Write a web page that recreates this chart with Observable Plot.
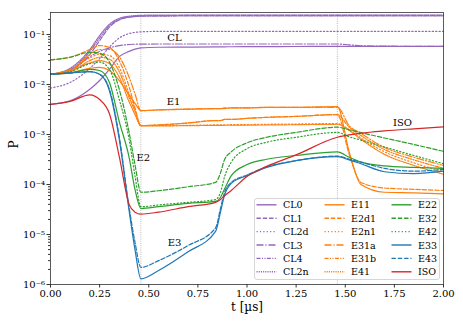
<!DOCTYPE html>
<html><head><meta charset="utf-8">
<script src="https://cdn.jsdelivr.net/npm/d3@7"></script>
<script src="https://cdn.jsdelivr.net/npm/@observablehq/plot@0.6"></script>
<style>
body{margin:0;background:#fff;}
#wrap{position:relative;width:463px;height:324px;font-family:"DejaVu Serif",serif;}
#legend{position:absolute;left:254px;top:198px;}
</style></head><body><div id="wrap"></div>
<script>
// time grid [µs]
const times = [0, 0.1, 0.2, 0.25, 0.3, 0.35, 0.4, 0.43, 0.46, 0.55, 0.7, 0.84, 0.865, 0.885, 0.92, 1.0, 1.1, 1.25, 1.46, 1.52, 1.58, 1.7, 1.85, 2.0];

// CL group
const CL0  = [0.004, 0.0047, 0.008, 0.012, 0.02, 0.036, 0.046, 0.051, 0.054, 0.0555, 0.056, 0.0565, 0.0566, 0.0567, 0.0568, 0.057, 0.0572, 0.0575, 0.058, 0.058, 0.058, 0.058, 0.058, 0.058];
const CL1  = [0.016, 0.019, 0.04, 0.075, 0.14, 0.195, 0.222, 0.23, 0.235, 0.238, 0.24, 0.24, 0.24, 0.24, 0.24, 0.24, 0.24, 0.24, 0.24, 0.24, 0.24, 0.24, 0.24, 0.24];
const CL2d = [0.0085, 0.011, 0.021, 0.033, 0.056, 0.085, 0.104, 0.11, 0.113, 0.115, 0.115, 0.115, 0.115, 0.115, 0.115, 0.115, 0.115, 0.115, 0.115, 0.115, 0.115, 0.115, 0.115, 0.115];
const CL3  = [0.016, 0.019, 0.036, 0.046, 0.054, 0.06, 0.063, 0.0638, 0.064, 0.0645, 0.0645, 0.0645, 0.0645, 0.0645, 0.0645, 0.0645, 0.0645, 0.0645, 0.0645, 0.062, 0.0595, 0.0585, 0.058, 0.058];
const CL4  = [0.016, 0.02, 0.046, 0.085, 0.15, 0.2, 0.223, 0.228, 0.231, 0.233, 0.234, 0.234, 0.234, 0.234, 0.234, 0.234, 0.234, 0.234, 0.234, 0.234, 0.234, 0.234, 0.234, 0.234];
const CL2n = [0.016, 0.021, 0.05, 0.095, 0.16, 0.21, 0.232, 0.238, 0.242, 0.244, 0.245, 0.245, 0.245, 0.245, 0.245, 0.245, 0.245, 0.245, 0.245, 0.245, 0.245, 0.245, 0.245, 0.245];
// E1 group
const E11  = [0.016, 0.017, 0.021, 0.022, 0.019, 0.012, 0.0062, 0.0042, 0.003, 0.0031, 0.0032, 0.0033, 0.0033, 0.0033, 0.0034, 0.0034, 0.0035, 0.0035, 0.0036, 0.00045, 0.0001, 0.00007, 0.000068, 0.000065];
const E2d1 = [0.031, 0.035, 0.05, 0.06, 0.055, 0.03, 0.009, 0.0034, 0.0015, 0.00155, 0.0017, 0.0019, 0.0019, 0.002, 0.002, 0.0021, 0.0022, 0.0023, 0.0025, 0.0004, 0.00011, 0.000085, 0.00008, 0.000076];
const E2n1 = [0.016, 0.02, 0.034, 0.04, 0.038, 0.022, 0.0065, 0.003, 0.0015, 0.0015, 0.00152, 0.00155, 0.00155, 0.00156, 0.00157, 0.00158, 0.0016, 0.00162, 0.00165, 0.00125, 0.00085, 0.00045, 0.00027, 0.00018];
const E31a = [0.016, 0.019, 0.04, 0.05, 0.05, 0.036, 0.014, 0.0065, 0.003, 0.0031, 0.0032, 0.0033, 0.0033, 0.0034, 0.0034, 0.0034, 0.0035, 0.0035, 0.0035, 0.0015, 0.00105, 0.00055, 0.00035, 0.00024];
const E31b = [0.016, 0.018, 0.03, 0.035, 0.032, 0.018, 0.0055, 0.0029, 0.0015, 0.00155, 0.0017, 0.0019, 0.0019, 0.002, 0.002, 0.0021, 0.0022, 0.0023, 0.0025, 0.0014, 0.00095, 0.0005, 0.00031, 0.00021];
const E41  = [0.016, 0.019, 0.027, 0.03, 0.026, 0.014, 0.0045, 0.0025, 0.0015, 0.00149, 0.0015, 0.00152, 0.00152, 0.00153, 0.00153, 0.00154, 0.00155, 0.00157, 0.0016, 0.0012, 0.0008, 0.0004, 0.00024, 0.00016];
// E2 group
const E22  = [0.016, 0.017, 0.02, 0.019, 0.011, 0.0018, 0.00035, 0.00008, 0.000033, 0.000036, 0.000042, 0.000046, 0.000055, 0.00008, 0.00015, 0.00025, 0.00032, 0.00038, 0.00045, 0.00035, 0.00028, 0.000235, 0.00022, 0.00021];
const E32  = [0.031, 0.035, 0.044, 0.042, 0.028, 0.008, 0.0011, 0.00025, 0.00007, 0.000075, 0.00009, 0.00011, 0.00017, 0.00031, 0.00045, 0.00068, 0.00088, 0.0011, 0.0014, 0.00124, 0.00109, 0.00085, 0.00063, 0.00046];
const E42  = [0.016, 0.018, 0.026, 0.028, 0.02, 0.005, 0.0008, 0.00015, 0.000036, 0.000039, 0.000044, 0.00005, 0.00007, 0.00014, 0.00028, 0.00052, 0.0007, 0.00088, 0.0011, 0.0009, 0.00077, 0.00056, 0.00038, 0.00026];
// E3 group
const E33  = [0.016, 0.017, 0.018, 0.016, 0.0075, 0.0008, 0.00003, 0.000005, 0.0000013, 0.0000019, 0.0000045, 0.0000115, 0.000028, 0.00006, 0.000105, 0.00015, 0.00022, 0.0003, 0.00036, 0.00031, 0.00026, 0.00018, 0.000165, 0.000185];
const E43  = [0.016, 0.017, 0.018, 0.016, 0.008, 0.0009, 0.000035, 0.000007, 0.0000022, 0.000003, 0.000006, 0.0000135, 0.000033, 0.000068, 0.00011, 0.000155, 0.000225, 0.0003, 0.00037, 0.00032, 0.00028, 0.00021, 0.000185, 0.0002];
// ISO
const ISO  = [0.004, 0.0046, 0.0062, 0.005, 0.0026, 0.00036, 0.00004, 0.000028, 0.0000255, 0.000028, 0.000036, 0.000044, 0.00005, 0.000059, 0.000076, 0.000145, 0.00023, 0.00039, 0.00088, 0.00098, 0.00106, 0.00118, 0.0013, 0.00142];

const seriesNames = ["CL0","CL1","CL2d","CL3","CL4","CL2n","E11","E2d1","E2n1","E31a","E31b","E41","E22","E32","E42","E33","E43","ISO"];
const seriesValues = [CL0, CL1, CL2d, CL3, CL4, CL2n, E11, E2d1, E2n1, E31a, E31b, E41, E22, E32, E42, E33, E43, ISO];

// dividing instants
const phaseTimes = [0.46, 1.46];

// in-plot group labels
const annoLabels = ["CL", "E1", "E2", "E3", "ISO"];
const annoT = [0.631, 0.626, 0.472, 0.631, 1.791];
const annoP = [0.0843, 0.00443, 0.000342, 0.0000068, 0.00168];

const xTicks = [0, 0.25, 0.5, 0.75, 1.0, 1.25, 1.5, 1.75, 2.0];
const yTicks = [1e-6, 1e-5, 1e-4, 1e-3, 1e-2, 1e-1];

// styles (separate from data)
const C = {purple:"#9467bd", orange:"#ff7f0e", green:"#2ca02c", blue:"#1f77b4", red:"#d62728"};
const D = {solid:null, dashed:"4.4,1.9", dotted:"1.2,2.2", dashdot:"7,1.9,1.2,1.9", dashdotdot:"4,1.4,1.1,1.4,1.1,1.4", dense:"1.1,1.1"};
const styleOf = {
  CL0:[C.purple,D.solid], CL1:[C.purple,D.dashed], CL2d:[C.purple,D.dotted], CL3:[C.purple,D.dashdot], CL4:[C.purple,D.dashdotdot], CL2n:[C.purple,D.dense],
  E11:[C.orange,D.solid], E2d1:[C.orange,D.dashed], E2n1:[C.orange,D.dotted], E31a:[C.orange,D.dashdot], E31b:[C.orange,D.dashdotdot], E41:[C.orange,D.dense],
  E22:[C.green,D.solid], E32:[C.green,D.dashed], E42:[C.green,D.dotted],
  E33:[C.blue,D.solid], E43:[C.blue,D.dashed], ISO:[C.red,D.solid]
};

const sup = {"-":"\u207B","0":"\u2070","1":"\u00B9","2":"\u00B2","3":"\u00B3","4":"\u2074","5":"\u2075","6":"\u2076","7":"\u2077","8":"\u2078","9":"\u2079"};
const fmtPow = d => "10" + String(Math.round(Math.log10(d))).replace(/./g, c => sup[c]);
const minorTicks = [];
for (let e = -6; e < 0; e++) for (let m = 2; m <= 9; m++) { const v = m * Math.pow(10, e); if (v < 0.275) minorTicks.push(v); }

const lineMarks = seriesNames.map((name, i) => {
  const rows = times.map((t, j) => ({t, p: seriesValues[i][j]}));
  const [stroke, dash] = styleOf[name];
  return Plot.line(rows, {x:"t", y:"p", stroke, strokeWidth: 1.2, strokeDasharray: dash, curve:"monotone-x"});
});
const annoRows = annoLabels.map((label, i) => ({label, t: annoT[i], p: annoP[i]}));

const chart = Plot.plot({
  width: 463, height: 324,
  marginLeft: 50, marginRight: 20, marginTop: 12, marginBottom: 40,
  style: {fontFamily: "DejaVu Serif", fontSize: "10px", color: "#000", background: "#fff"},
  x: {domain: [0, 2]},
  y: {type: "log", domain: [1e-6, 0.275]},
  marks: [
    Plot.ruleX(phaseTimes, {stroke: "#aaa", strokeWidth: 0.8, strokeDasharray: "1,1.2"}),
    ...lineMarks,
    Plot.text(annoRows, {x:"t", y:"p", text:"label", fill:"#000", fontSize: 10}),
    Plot.axisX({ticks: xTicks, tickFormat: d3.format(".2f"), tickSize: 3.5, tickPadding: 2, label: null, stroke: "#333"}),
    Plot.axisY({ticks: yTicks, tickFormat: fmtPow, tickSize: 3.5, tickPadding: 2, label: null, stroke: "#333"}),
    Plot.axisY({ticks: minorTicks, tickFormat: () => "", tickSize: 2, label: null, stroke: "#333"}),
    Plot.frame({stroke: "#333", strokeWidth: 0.8}),
    Plot.text(["t [\u00B5s]"], {frameAnchor: "bottom", dy: 26, text: d => d, fontSize: 12, fill: "#000"}),
    Plot.text(["P"], {frameAnchor: "left", dx: -36, rotate: -90, text: d => d, fontSize: 12, fill: "#000"})
  ]
});
const wrap = document.getElementById("wrap");
wrap.appendChild(chart);

// legend (3 columns, column-major)
const ns = "http://www.w3.org/2000/svg";
const lg = document.createElementNS(ns, "svg");
lg.setAttribute("id", "legend");
lg.setAttribute("width", 186); lg.setAttribute("height", 82);
const bg = document.createElementNS(ns, "rect");
bg.setAttribute("x", 0.5); bg.setAttribute("y", 0.5); bg.setAttribute("width", 185); bg.setAttribute("height", 81);
bg.setAttribute("rx", 2.5); bg.setAttribute("fill", "rgba(255,255,255,0.8)"); bg.setAttribute("stroke", "#ccc"); bg.setAttribute("stroke-width", 0.8);
lg.appendChild(bg);
const colX = [2.5, 70.5, 137.5];
seriesNames.forEach((name, i) => {
  const c = Math.floor(i / 6), r = i % 6;
  const y = 6.8 + r * 13.4;
  const [stroke, dash] = styleOf[name];
  const ln = document.createElementNS(ns, "line");
  ln.setAttribute("x1", colX[c]); ln.setAttribute("x2", colX[c] + 20);
  ln.setAttribute("y1", y); ln.setAttribute("y2", y);
  ln.setAttribute("stroke", stroke); ln.setAttribute("stroke-width", 1.4);
  if (dash) ln.setAttribute("stroke-dasharray", dash);
  lg.appendChild(ln);
  const tx = document.createElementNS(ns, "text");
  tx.setAttribute("x", colX[c] + 26.5); tx.setAttribute("y", y);
  tx.setAttribute("dominant-baseline", "central");
  tx.setAttribute("font-family", "DejaVu Serif"); tx.setAttribute("font-size", "9.5px");
  tx.setAttribute("fill", "#000");
  tx.textContent = name;
  lg.appendChild(tx);
});
wrap.appendChild(lg);
</script></body></html>
